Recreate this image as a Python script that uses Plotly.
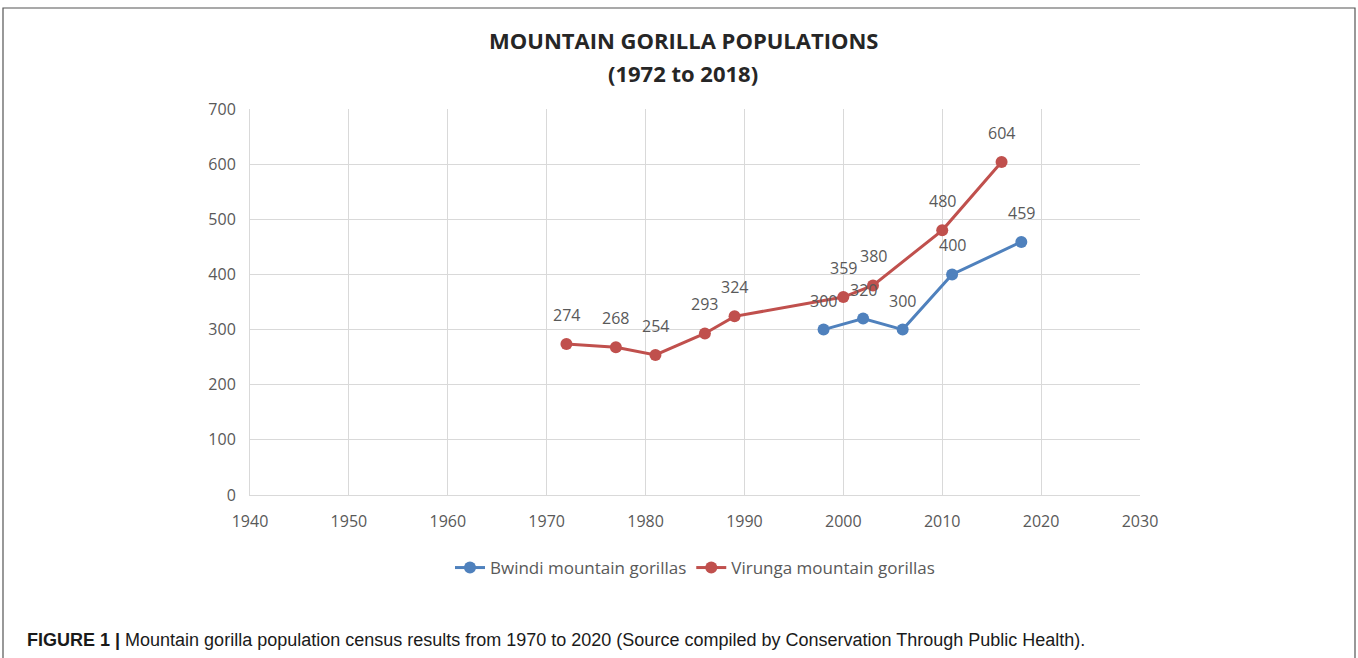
import plotly.graph_objects as go

bwindi_years = [1998, 2002, 2006, 2011, 2018]
bwindi_values = [300, 320, 300, 400, 459]
virunga_years = [1972, 1977, 1981, 1986, 1989, 2000, 2003, 2010, 2016]
virunga_values = [274, 268, 254, 293, 324, 359, 380, 480, 604]

BLUE = "#4F81BD"
RED = "#C0504D"
GRAY = "#595959"

fig = go.Figure()
fig.add_trace(go.Scatter(
    x=bwindi_years, y=bwindi_values, mode="lines+markers",
    name="Bwindi mountain gorillas",
    line=dict(color=BLUE, width=3), marker=dict(color=BLUE, size=12),
))
fig.add_trace(go.Scatter(
    x=virunga_years, y=virunga_values, mode="lines+markers",
    name="Virunga mountain gorillas",
    line=dict(color=RED, width=3), marker=dict(color=RED, size=12),
))

L, R, T, B = 250, 218, 109, 163
W, H = 1358, 658
pw, ph = W - L - R, H - T - B

def px2x(px):
    return (px - L) / pw

def py2y(py):
    return (H - B - py) / ph

annotations = []
for xs, ys in [(bwindi_years, bwindi_values), (virunga_years, virunga_values)]:
    for xv, yv in zip(xs, ys):
        annotations.append(dict(x=xv, y=yv, xref="x", yref="y", text=str(yv),
                                showarrow=False, yshift=29, yanchor="middle",
                                font=dict(color=GRAY, size=16, family="Open Sans")))

annotations += [
    dict(text="<b>MOUNTAIN GORILLA POPULATIONS</b>", xref="paper", yref="paper",
         x=px2x(683), y=py2y(40), yanchor="middle", showarrow=False,
         font=dict(size=22, color="#262626", family="Open Sans")),
    dict(text="<b>(1972 to 2018)</b>", xref="paper", yref="paper",
         x=px2x(683), y=py2y(73), yanchor="middle", showarrow=False,
         font=dict(size=22, color="#262626", family="Open Sans")),
    dict(text="<b>FIGURE 1 |</b> Mountain gorilla population census results from 1970 to 2020 (Source compiled by Conservation Through Public Health).",
         xref="paper", yref="paper", x=px2x(25), y=py2y(640), xanchor="left", yanchor="middle",
         showarrow=False, font=dict(size=18, color="#1a1a1a", family="Liberation Sans")),
]

fig.update_layout(
    width=W, height=H,
    margin=dict(l=L, r=R, t=T, b=B),
    paper_bgcolor="white", plot_bgcolor="white",
    font=dict(family="Open Sans", color=GRAY, size=16),
    showlegend=True,
    legend=dict(orientation="h", x=0.5, xanchor="center", y=py2y(550), yanchor="top",
                font=dict(size=17, color=GRAY, family="Open Sans"), itemwidth=30),
    xaxis=dict(range=[1940, 2030], tickvals=list(range(1940, 2031, 10)),
               showgrid=True, gridcolor="#d9d9d9", gridwidth=1,
               zeroline=False, showline=True, linecolor="#d9d9d9",
               ticks="", ticklabelstandoff=12, tickfont=dict(size=16, color=GRAY)),
    yaxis=dict(range=[0, 700], tickvals=list(range(0, 701, 100)),
               showgrid=True, gridcolor="#d9d9d9", gridwidth=1,
               zeroline=False, showline=True, linecolor="#d9d9d9",
               ticks="", ticklabelstandoff=10, tickfont=dict(size=16, color=GRAY)),
    shapes=[dict(type="rect", xref="paper", yref="paper",
                 x0=px2x(3), x1=px2x(1355), y0=py2y(700), y1=py2y(8),
                 line=dict(color="#555555", width=1.2), fillcolor="rgba(0,0,0,0)", layer="below")],
    annotations=annotations,
)

fig.write_html("out.html")
